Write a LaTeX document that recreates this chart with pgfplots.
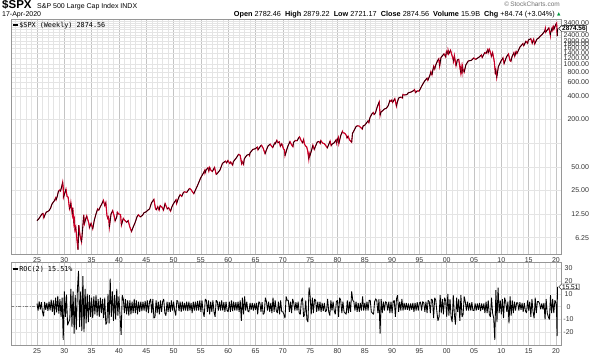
\documentclass[border=0pt]{standalone}
\usepackage{pgfplots}
\pgfplotsset{compat=1.18}
\usepackage{pgfplotstable}
\usepackage{fontspec}
\setmainfont{Liberation Sans}
\newfontfamily\monof{DejaVu Sans Mono}
\newfontfamily\dejavu{DejaVu Sans}
\usetikzlibrary{shapes.symbols}
\definecolor{spxred}{RGB}{204,0,40}
\definecolor{gmin}{RGB}{228,228,228}
\definecolor{gmaj}{RGB}{196,196,196}
\definecolor{framec}{RGB}{150,150,150}
\definecolor{upgreen}{RGB}{0,150,60}

% weekly S&P 500 (key points), c = 1 if next move is up (black), 0 if down (red)
\pgfplotstableread{
x y c
1925.0 10.3 1
1925.3 10.8 1
1925.6 11.6 1
1925.9 12.5 1
1926.1 12.7 0
1926.25 11.2 1
1926.5 12.4 1
1926.7 13.2 1
1926.9 13.4 1
1927.2 13.8 1
1927.5 14.9 1
1927.7 16.5 1
1927.9 17.4 1
1928.2 18.5 1
1928.4 20.0 0
1928.5 19.0 1
1928.7 20.9 1
1928.9 24.0 1
1929.1 25.2 0
1929.3 24.5 1
1929.5 27.5 1
1929.7 31.9 0
1929.8 27.0 0
1929.85 20.4 1
1930.0 22.0 1
1930.3 25.9 0
1930.5 21.0 0
1930.7 20.5 0
1930.95 14.5 1
1931.1 15.5 1
1931.2 17.4 0
1931.45 12.5 1
1931.55 15.0 0
1931.75 9.5 1
1931.85 10.5 0
1931.95 7.8 1
1932.1 8.5 0
1932.3 6.0 0
1932.5 4.4 1
1932.65 9.0 0
1932.9 6.5 0
1933.15 5.5 1
1933.35 8.0 1
1933.55 12.2 0
1933.7 9.5 1
1933.85 10.5 1
1934.1 11.8 0
1934.5 9.5 0
1934.6 8.4 1
1934.9 9.5 0
1935.2 8.1 1
1935.5 10.5 1
1935.8 12.5 1
1936.1 14.5 0
1936.3 14.0 1
1936.6 15.5 1
1936.9 17.0 1
1937.15 18.7 0
1937.4 16.0 1
1937.6 17.5 0
1937.8 12.0 0
1937.95 11.0 1
1938.1 11.5 0
1938.25 8.5 1
1938.55 12.5 1
1938.85 13.8 0
1939.1 12.0 0
1939.3 10.2 1
1939.6 11.5 1
1939.7 13.2 0
1939.95 12.5 0
1940.3 12.3 0
1940.45 9.0 1
1940.8 11.0 0
1941.0 10.5 0
1941.4 9.8 1
1941.7 10.3 0
1941.95 8.7 0
1942.3 7.5 1
1942.6 8.5 1
1942.95 9.7 1
1943.3 11.5 1
1943.55 12.2 0
1943.9 11.5 1
1944.3 12.0 1
1944.6 13.0 1
1944.95 13.3 1
1945.3 14.0 1
1945.6 14.5 1
1945.95 17.3 1
1946.4 19.2 0
1946.7 14.5 0
1946.85 14.2 1
1947.1 15.5 0
1947.35 14.0 1
1947.55 16.0 0
1947.9 15.2 0
1948.15 14.0 1
1948.45 17.0 0
1948.85 14.5 1
1949.1 15.0 0
1949.45 13.6 1
1949.7 15.5 1
1949.95 16.8 1
1950.45 19.0 0
1950.55 17.0 1
1950.95 20.4 1
1951.2 22.0 0
1951.5 21.0 1
1951.8 23.5 1
1952.0 24.0 0
1952.4 23.5 1
1952.9 26.4 0
1953.1 26.0 0
1953.7 22.7 1
1953.95 24.8 1
1954.4 29.0 1
1954.95 35.9 1
1955.5 42.0 1
1955.7 45.0 0
1955.75 41.5 1
1955.95 45.5 1
1956.3 48.5 0
1956.45 44.0 1
1956.6 49.0 0
1956.85 45.0 0
1957.1 43.5 1
1957.5 49.0 0
1957.8 40.0 1
1958.0 41.0 1
1958.5 45.5 1
1958.95 55.2 1
1959.5 59.0 0
1959.7 56.0 1
1959.95 60.0 0
1960.3 55.0 1
1960.45 57.5 0
1960.8 52.5 1
1960.95 58.1 1
1961.5 65.0 1
1961.9 72.0 0
1962.2 70.0 0
1962.45 55.0 1
1962.55 58.0 0
1962.8 53.5 1
1962.95 63.1 1
1963.4 70.0 1
1963.85 72.0 0
1963.9 70.0 1
1964.0 75.0 1
1964.5 83.0 1
1964.95 84.7 1
1965.35 89.0 0
1965.45 82.0 1
1965.95 92.4 1
1966.1 94.0 0
1966.4 86.0 0
1966.75 73.2 1
1966.95 80.3 1
1967.3 92.0 1
1967.7 97.0 0
1967.9 92.0 0
1968.15 87.7 1
1968.5 100.0 0
1968.6 98.0 1
1968.9 108.4 0
1969.1 101.0 1
1969.35 104.0 0
1969.55 91.0 1
1969.8 98.0 0
1969.95 92.1 0
1970.1 85.0 0
1970.3 82.0 0
1970.4 69.3 1
1970.55 75.0 1
1970.75 84.0 1
1970.95 92.2 1
1971.3 104.5 0
1971.6 95.0 0
1971.85 90.0 1
1971.95 102.1 1
1972.3 108.0 0
1972.6 107.0 1
1972.95 118.0 1
1973.05 120.2 0
1973.4 106.0 0
1973.6 101.0 1
1973.8 111.0 0
1973.95 97.6 0
1974.15 92.0 0
1974.35 90.0 0
1974.55 80.0 0
1974.75 62.3 1
1974.85 73.0 0
1974.95 68.6 1
1975.3 83.0 1
1975.5 94.0 0
1975.75 83.0 1
1975.95 90.2 1
1976.3 103.0 1
1976.6 105.0 0
1976.85 99.0 1
1976.95 107.5 0
1977.3 100.0 0
1977.6 98.0 0
1977.9 92.0 0
1978.15 87.0 1
1978.65 106.0 0
1978.85 93.0 1
1978.95 96.1 1
1979.4 101.0 1
1979.75 110.0 0
1979.85 100.0 1
1979.95 107.9 1
1980.15 118.0 0
1980.25 98.2 1
1980.6 125.0 1
1980.9 140.5 0
1980.95 135.8 0
1981.3 134.0 0
1981.6 126.0 0
1981.75 116.0 1
1981.95 122.5 0
1982.2 110.0 0
1982.6 102.4 1
1982.75 133.0 1
1982.95 140.6 1
1983.4 162.0 1
1983.55 165.0 1
1983.75 166.0 0
1983.95 164.9 0
1984.3 157.0 0
1984.55 150.7 1
1984.7 166.0 1
1984.95 167.2 1
1985.3 180.0 1
1985.6 192.0 0
1985.75 182.0 1
1985.95 211.3 1
1986.3 235.0 1
1986.55 245.0 0
1986.7 231.0 1
1986.95 242.2 1
1987.3 292.0 1
1987.65 336.0 0
1987.8 225.0 1
1987.9 240.0 1
1987.95 247.1 1
1988.3 260.0 1
1988.6 272.0 1
1988.95 277.7 1
1989.3 300.0 1
1989.6 350.0 0
1989.8 340.0 1
1989.95 353.4 0
1990.1 330.0 1
1990.5 368.0 0
1990.8 295.0 1
1990.95 330.2 1
1991.2 375.0 1
1991.6 385.0 0
1991.9 375.0 1
1991.98 417.1 0
1992.3 410.0 1
1992.7 414.0 1
1992.95 435.7 1
1993.5 448.0 1
1993.95 466.5 1
1994.1 480.0 0
1994.3 440.0 1
1994.6 462.0 0
1994.95 459.3 1
1995.5 545.0 1
1995.95 615.9 1
1996.4 670.0 0
1996.55 630.0 1
1996.95 740.7 1
1997.1 810.0 0
1997.3 740.0 1
1997.6 950.0 0
1997.8 876.0 1
1997.95 970.4 1
1998.3 1110.0 1
1998.55 1186.0 0
1998.7 957.0 1
1998.95 1229.2 1
1999.5 1370.0 0
1999.8 1250.0 1
1999.95 1469.3 0
2000.2 1370.0 1
2000.25 1527.0 0
2000.4 1380.0 1
2000.7 1520.0 0
2000.95 1320.3 0
2001.2 1150.0 0
2001.25 1100.0 1
2001.4 1300.0 0
2001.7 965.8 1
2001.95 1148.1 1
2002.2 1165.0 0
2002.55 797.0 1
2002.65 935.0 0
2002.8 776.8 1
2002.9 935.0 0
2002.95 879.8 0
2003.2 800.0 1
2003.5 990.0 1
2003.95 1111.9 1
2004.5 1130.0 1
2004.95 1211.9 0
2005.3 1165.0 1
2005.95 1248.3 1
2006.35 1325.0 0
2006.5 1230.0 1
2006.95 1418.3 0
2007.2 1385.0 1
2007.5 1550.0 0
2007.6 1415.0 1
2007.8 1565.0 0
2007.95 1468.4 0
2008.2 1275.0 1
2008.4 1420.0 0
2008.7 1100.0 0
2008.85 850.0 0
2008.9 752.0 1
2008.95 903.3 0
2009.15 683.0 1
2009.45 940.0 1
2009.95 1115.1 1
2010.3 1217.0 0
2010.5 1030.0 1
2010.95 1257.6 1
2011.3 1363.0 0
2011.6 1120.0 0
2011.75 1099.0 1
2011.95 1257.6 1
2012.3 1419.0 0
2012.45 1278.0 1
2012.7 1465.0 0
2012.85 1380.0 1
2012.95 1426.2 1
2013.4 1669.0 1
2013.95 1848.4 0
2014.1 1741.0 1
2014.5 1980.0 0
2014.8 1862.0 1
2014.95 2058.9 1
2015.4 2130.0 0
2015.65 1867.0 1
2015.9 2100.0 0
2015.95 2043.9 0
2016.1 1829.0 1
2016.5 2100.0 1
2016.9 2200.0 1
2016.95 2238.8 1
2017.5 2430.0 1
2017.95 2673.6 1
2018.05 2872.0 0
2018.1 2581.0 1
2018.7 2930.0 0
2018.98 2351.0 1
2019.0 2506.9 1
2019.3 2945.0 0
2019.4 2744.0 1
2019.55 3025.0 0
2019.65 2840.0 1
2019.95 3230.8 1
2020.12 3380.0 0
2020.22 2304.9 1
2020.26 2488.7 1
2020.28 2789.8 1
2020.29 2874.56 1
}\spx

\begin{document}
\begin{tikzpicture}[x=1pt,y=1pt]
\useasboundingbox (0,0) rectangle (600,356);

% header
\node[anchor=base west, inner sep=0, font=\bfseries\fontsize{11.5}{11.5}\selectfont] at (2,347.5) {\$SPX};
\node[anchor=base west, inner sep=0, font=\fontsize{7}{7}\selectfont] at (37,347.5) {S\&P 500 Large Cap Index  INDX};
\node[anchor=base west, inner sep=0, font=\fontsize{7}{7}\selectfont] at (2,339.5) {17-Apr-2020};
\node[anchor=base east, inner sep=0, font=\fontsize{6.5}{6.5}\selectfont, text=black!55] at (560,349.5) {\textcopyright\,StockCharts.com};
\node[anchor=base east, inner sep=0, font=\fontsize{7.3}{7.3}\selectfont] at (555,339.5) {\textbf{Open} 2782.46 \ \textbf{High} 2879.22 \ \textbf{Low} 2721.17 \ \textbf{Close} 2874.56 \ \textbf{Volume} 15.9B \ \textbf{Chg} +84.74 (+3.04\%)};
\node[anchor=base west, inner sep=0, font=\dejavu\fontsize{4.5}{4.5}\selectfont, text=upgreen] at (557,340) {▲};

% main price panel
\begin{axis}[
  at={(11pt,102pt)}, anchor=south west, scale only axis,
  width=550pt, height=235pt,
  xmin=1920.24, xmax=2020.92,
  ymode=log, ymin=3.87, ymax=3805,
  clip mode=individual,
  axis line style={framec, line width=0.5pt},
  major tick length=0pt, minor tick length=0pt,
  xtick={1925,1930,...,2020},
  xticklabels={25,30,35,40,45,50,55,60,65,70,75,80,85,90,95,00,05,10,15,20},
  minor xtick={1921,...,2020},
  xticklabel style={font=\fontsize{7}{7}\selectfont, text=black!80},
  ytick={6.25,12.5,25,50,100,200,400,500,600,700,800,900,1000,1200,1400,1600,1800,2000,2200,2400,2600,2800,3000,3200,3400,3600},
  yticklabels={6.25,12.50,25.00,50.00,{},200.00,400.00,{},600.00,{},800.00,{},1000.00,1200.00,1400.00,1600.00,1800.00,2000.00,{},2400.00,{},{},{},{},3400.00,{}},
  yticklabel pos=right,
  yticklabel style={anchor=east, xshift=31.5pt, font=\fontsize{7}{7}\selectfont, text=black!80},
  xmajorgrids, xminorgrids, ymajorgrids,
  major x grid style={gmaj, line width=0.5pt},
  minor x grid style={gmin, line width=0.4pt},
  major y grid style={gmin, line width=0.4pt},
  colormap={ud}{color(0)=(spxred) color(1)=(black)},
  point meta min=0, point meta max=1,
]
\addplot[spxred, line width=1.1pt] table[x=x, y=y] {\spx};
\addplot[mesh, shader=flat corner, point meta=explicit, line width=0.6pt] table[x=x, y=y, meta=c] {\spx};
\node[signal, signal to=west, draw=black, fill=white, line width=0.4pt, inner sep=0.6pt,
      font=\bfseries\fontsize{6.5}{6.5}\selectfont, anchor=west] at (axis cs:2020.45,2874.56) {2874.56};
\end{axis}

\node[anchor=base west, inner sep=0, font=\monof\fontsize{6.8}{6.8}\selectfont] at (13,328.5) {\rule[1.8pt]{5pt}{1.3pt}\,\$SPX (Weekly) 2874.56};

% ROC panel
\begin{axis}[
  at={(11pt,11pt)}, anchor=south west, scale only axis,
  width=550pt, height=83pt,
  xmin=1920.24, xmax=2020.92,
  ymin=-30, ymax=35,
  clip mode=individual,
  axis line style={framec, line width=0.5pt},
  major tick length=0pt, minor tick length=0pt,
  xtick={1925,1930,...,2020},
  xticklabels={25,30,35,40,45,50,55,60,65,70,75,80,85,90,95,00,05,10,15,20},
  minor xtick={1921,...,2020},
  xticklabel style={font=\fontsize{7}{7}\selectfont, text=black!80},
  ytick={-20,-10,0,10,20,30},
  yticklabels={-20,-10,0,10,20,30},
  yticklabel pos=right,
  yticklabel style={anchor=center, xshift=7.5pt, font=\fontsize{7}{7}\selectfont, text=black!80},
  xmajorgrids, xminorgrids, ymajorgrids,
  major x grid style={gmaj, line width=0.5pt},
  minor x grid style={gmin, line width=0.4pt},
  major y grid style={gmin, line width=0.4pt},
]
\addplot[black!50, line width=0.5pt, dash pattern=on 3pt off 1.5pt on 1pt off 1.5pt] coordinates {(1920.24,0) (1925.0,0)};
\addplot[black, line width=0.85pt, line join=miter, miter limit=2] coordinates {
(1925.0,2.5)(1925.2,-3.0)(1925.4,4.1)(1925.6,-2.2)(1925.8,3.5)
(1926.0,-4.0)(1926.2,-7.5)(1926.4,3.8)(1926.6,-2.5)(1926.8,3.0)
(1927.0,-3.2)(1927.2,4.0)(1927.4,-2.8)(1927.6,5.5)(1927.8,-4.0)
(1928.0,5.0)(1928.2,-6.5)(1928.4,7.0)(1928.6,-4.5)(1928.8,8.5)
(1929.0,-5.5)(1929.2,6.0)(1929.4,-8.0)(1929.6,7.0)(1929.8,-26.0)
(1930.0,12.0)(1930.2,-8.0)(1930.4,9.5)(1930.6,-14.5)(1930.8,-12.0)
(1931.0,-10.0)(1931.2,14.0)(1931.4,-16.0)(1931.6,12.0)(1931.8,-21.0)
(1932.0,9.0)(1932.2,-18.0)(1932.4,14.0)(1932.6,28.0)(1932.8,-16.0)
(1933.0,12.0)(1933.2,-19.0)(1933.4,24.0)(1933.6,-20.0)(1933.8,14.0)
(1934.0,-13.0)(1934.2,10.0)(1934.4,-12.0)(1934.6,9.0)(1934.8,-8.0)
(1935.0,7.0)(1935.2,-9.0)(1935.4,8.0)(1935.6,-6.0)(1935.8,9.0)
(1936.0,-7.0)(1936.2,6.0)(1936.4,-8.0)(1936.6,7.0)(1936.8,-5.0)
(1937.0,6.0)(1937.2,-9.0)(1937.4,7.0)(1937.6,-14.0)(1937.8,-12.0)
(1938.0,10.0)(1938.2,-13.0)(1938.4,22.0)(1938.6,-8.0)(1938.8,12.0)
(1939.0,-11.0)(1939.2,9.0)(1939.4,-10.0)(1939.6,14.0)(1939.8,-7.0)
(1940.0,8.0)(1940.2,-7.0)(1940.4,-22.0)(1940.6,9.0)(1940.8,6.0)
(1941.0,-5.0)(1941.2,6.0)(1941.4,-6.0)(1941.6,5.0)(1941.8,-7.0)
(1942.0,5.0)(1942.2,-6.0)(1942.4,4.0)(1942.6,-5.0)(1942.8,6.0)
(1943.0,-5.0)(1943.2,5.0)(1943.4,-6.0)(1943.6,4.0)(1943.8,-4.0)
(1944.0,4.0)(1944.2,-3.5)(1944.4,4.0)(1944.6,-3.0)(1944.8,4.5)
(1945.0,-4.0)(1945.2,5.0)(1945.4,-5.0)(1945.6,4.0)(1945.8,6.0)
(1946.0,-5.0)(1946.2,6.0)(1946.4,-9.0)(1946.6,-8.0)(1946.8,5.0)
(1947.0,-5.0)(1947.2,4.0)(1947.4,-6.0)(1947.6,5.0)(1947.8,-4.0)
(1948.0,4.0)(1948.2,6.0)(1948.4,-5.0)(1948.6,-7.0)(1948.8,4.0)
(1949.0,-4.0)(1949.2,3.5)(1949.4,-4.0)(1949.6,5.0)(1949.8,-3.0)
(1950.0,4.0)(1950.2,-3.0)(1950.4,-7.0)(1950.6,5.0)(1950.8,4.0)
(1951.0,-3.5)(1951.2,4.0)(1951.4,-4.0)(1951.6,4.0)(1951.8,-3.0)
(1952.0,3.0)(1952.2,-3.0)(1952.4,4.0)(1952.6,-3.5)(1952.8,4.0)
(1953.0,-3.0)(1953.2,3.0)(1953.4,-5.0)(1953.6,4.0)(1953.8,-3.0)
(1954.0,4.0)(1954.2,-3.0)(1954.4,4.5)(1954.6,-3.0)(1954.8,5.0)
(1955.0,-4.0)(1955.2,5.0)(1955.4,-4.0)(1955.6,-8.0)(1955.8,6.0)
(1956.0,5.0)(1956.2,-4.0)(1956.4,5.0)(1956.6,-6.0)(1956.8,4.0)
(1957.0,-4.0)(1957.2,5.0)(1957.4,-4.0)(1957.6,-8.0)(1957.8,5.0)
(1958.0,4.0)(1958.2,-3.0)(1958.4,4.0)(1958.6,-3.0)(1958.8,5.0)
(1959.0,-3.0)(1959.2,3.5)(1959.4,-4.0)(1959.6,4.0)(1959.8,-3.0)
(1960.0,-4.0)(1960.2,4.0)(1960.4,-4.0)(1960.6,5.0)(1960.8,-3.5)
(1961.0,4.0)(1961.2,-3.0)(1961.4,3.5)(1961.6,-3.0)(1961.8,4.0)
(1962.0,-4.0)(1962.2,5.0)(1962.4,-11.0)(1962.6,7.0)(1962.8,-6.0)
(1963.0,8.0)(1963.2,-3.0)(1963.4,4.0)(1963.6,-3.5)(1963.8,-4.0)
(1964.0,3.0)(1964.2,-2.5)(1964.4,3.0)(1964.6,-3.0)(1964.8,2.5)
(1965.0,-2.5)(1965.2,3.0)(1965.4,-6.0)(1965.6,4.0)(1965.8,3.0)
(1966.0,-4.0)(1966.2,3.5)(1966.4,-6.0)(1966.6,-5.0)(1966.8,7.0)
(1967.0,4.0)(1967.2,-3.0)(1967.4,4.0)(1967.6,-4.0)(1967.8,3.0)
(1968.0,-5.0)(1968.2,7.0)(1968.4,-4.0)(1968.6,5.0)(1968.8,-3.0)
(1969.0,-5.0)(1969.2,4.0)(1969.4,-6.0)(1969.6,5.0)(1969.8,-4.0)
(1970.0,-4.0)(1970.2,-6.0)(1970.4,-9.0)(1970.6,8.0)(1970.8,5.0)
(1971.0,5.0)(1971.2,-4.0)(1971.4,4.0)(1971.6,-5.0)(1971.8,6.0)
(1972.0,3.0)(1972.2,-3.0)(1972.4,3.5)(1972.6,-3.0)(1972.8,4.0)
(1973.0,-5.0)(1973.2,-6.0)(1973.4,5.0)(1973.6,7.0)(1973.8,-8.0)
(1974.0,-6.0)(1974.2,5.0)(1974.4,-10.0)(1974.6,-12.0)(1974.8,15.0)
(1975.0,8.0)(1975.2,-6.0)(1975.4,7.0)(1975.6,-5.0)(1975.8,6.0)
(1976.0,5.0)(1976.2,-4.0)(1976.4,4.0)(1976.6,-3.5)(1976.8,4.0)
(1977.0,-4.0)(1977.2,3.0)(1977.4,-3.5)(1977.6,3.0)(1977.8,-4.0)
(1978.0,-3.0)(1978.2,6.0)(1978.4,-4.0)(1978.6,-7.0)(1978.8,5.0)
(1979.0,-3.0)(1979.2,4.0)(1979.4,-3.0)(1979.6,-6.0)(1979.8,4.0)
(1980.0,5.0)(1980.2,-8.0)(1980.4,7.0)(1980.6,5.0)(1980.8,-5.0)
(1981.0,4.0)(1981.2,-4.0)(1981.4,-5.0)(1981.6,-6.0)(1981.8,5.0)
(1982.0,-5.0)(1982.2,4.0)(1982.4,-4.0)(1982.6,12.0)(1982.8,5.0)
(1983.0,4.0)(1983.2,-3.0)(1983.4,4.0)(1983.6,-4.0)(1983.8,3.0)
(1984.0,-4.0)(1984.2,3.0)(1984.4,-3.0)(1984.6,8.0)(1984.8,-3.0)
(1985.0,3.0)(1985.2,-3.0)(1985.4,4.0)(1985.6,-3.0)(1985.8,5.0)
(1986.0,5.0)(1986.2,-4.0)(1986.4,-5.0)(1986.6,-6.0)(1986.8,4.0)
(1987.0,6.0)(1987.2,5.0)(1987.4,-5.0)(1987.6,6.0)(1987.8,-21.0)
(1988.0,6.0)(1988.2,-5.0)(1988.4,4.0)(1988.6,-3.0)(1988.8,4.0)
(1989.0,3.0)(1989.2,-3.0)(1989.4,4.0)(1989.6,-5.0)(1989.8,4.0)
(1990.0,-5.0)(1990.2,4.0)(1990.4,5.0)(1990.6,-8.0)(1990.8,6.0)
(1991.0,9.0)(1991.2,-4.0)(1991.4,4.0)(1991.6,-3.0)(1991.8,6.0)
(1992.0,-3.0)(1992.2,3.0)(1992.4,-2.5)(1992.6,3.0)(1992.8,-2.5)
(1993.0,2.5)(1993.2,-3.0)(1993.4,2.5)(1993.6,-2.5)(1993.8,3.0)
(1994.0,-4.0)(1994.2,3.0)(1994.4,-3.0)(1994.6,3.5)(1994.8,-3.0)
(1995.0,3.0)(1995.2,3.5)(1995.4,-3.0)(1995.6,4.0)(1995.8,3.0)
(1996.0,-4.0)(1996.2,4.0)(1996.4,-5.0)(1996.6,5.0)(1996.8,4.0)
(1997.0,-5.0)(1997.2,6.0)(1997.4,5.0)(1997.6,-9.0)(1997.8,7.0)
(1998.0,5.0)(1998.2,-4.0)(1998.4,-11.0)(1998.6,-8.0)(1998.8,9.0)
(1999.0,-5.0)(1999.2,6.0)(1999.4,-6.0)(1999.6,7.0)(1999.8,5.0)
(2000.0,-8.0)(2000.2,10.0)(2000.4,-7.0)(2000.6,6.0)(2000.8,-8.0)
(2001.0,-12.0)(2001.2,9.0)(2001.4,-6.0)(2001.6,-14.0)(2001.8,7.0)
(2002.0,-4.0)(2002.2,6.0)(2002.4,-11.0)(2002.6,9.0)(2002.8,-8.0)
(2003.0,-6.0)(2003.2,8.0)(2003.4,4.0)(2003.6,-3.0)(2003.8,4.0)
(2004.0,-3.0)(2004.2,3.0)(2004.4,-3.0)(2004.6,3.5)(2004.8,-3.0)
(2005.0,-3.0)(2005.2,2.5)(2005.4,-3.0)(2005.6,2.5)(2005.8,-2.5)
(2006.0,3.0)(2006.2,-3.5)(2006.4,2.5)(2006.6,-2.5)(2006.8,2.5)
(2007.0,-5.0)(2007.2,4.0)(2007.4,-5.0)(2007.6,5.0)(2007.8,-6.0)
(2008.0,-8.0)(2008.2,7.0)(2008.4,-5.0)(2008.6,-9.0)(2008.8,-26.0)
(2009.0,13.0)(2009.2,-12.0)(2009.4,15.0)(2009.6,-5.0)(2009.8,5.0)
(2010.0,-6.0)(2010.2,6.0)(2010.4,-9.0)(2010.6,7.0)(2010.8,4.0)
(2011.0,-4.0)(2011.2,4.0)(2011.4,-13.0)(2011.6,8.0)(2011.8,-7.0)
(2012.0,5.0)(2012.2,-5.0)(2012.4,4.0)(2012.6,-3.0)(2012.8,3.0)
(2013.0,3.0)(2013.2,-3.0)(2013.4,3.5)(2013.6,-2.5)(2013.8,3.0)
(2014.0,-4.0)(2014.2,3.0)(2014.4,-3.0)(2014.6,-5.0)(2014.8,5.0)
(2015.0,-3.0)(2015.2,4.0)(2015.4,-8.0)(2015.6,6.0)(2015.8,-4.0)
(2016.0,-9.0)(2016.2,7.0)(2016.4,-5.0)(2016.6,4.0)(2016.8,4.0)
(2017.0,2.5)(2017.2,-2.0)(2017.4,2.5)(2017.6,-2.0)(2017.8,3.0)
(2018.0,-10.0)(2018.2,6.0)(2018.4,-5.0)(2018.6,-8.0)(2018.8,-10.0)
(2019.0,9.0)(2019.2,-5.0)(2019.4,6.0)(2019.6,-5.0)(2019.8,5.0)
(2020.0,3.0)(2020.1,-3.0)(2020.15,-12.0)(2020.2,-23.0)(2020.25,8.0)(2020.29,15.51)
};
\node[signal, signal to=west, draw=black, fill=white, line width=0.4pt, inner sep=0.6pt,
      font=\fontsize{6.5}{6.5}\selectfont, anchor=west] at (axis cs:2020.45,15.51) {15.51};
\end{axis}

\node[anchor=base west, inner sep=0, font=\monof\fontsize{6.8}{6.8}\selectfont] at (13,84.5) {\rule[1.8pt]{5pt}{1.3pt}\,ROC(2) 15.51\%};
\end{tikzpicture}
\end{document}
